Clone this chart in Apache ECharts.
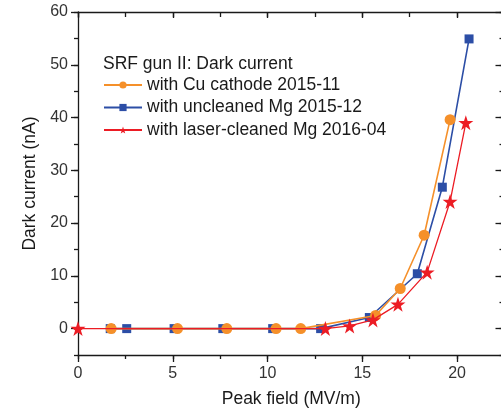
<!DOCTYPE html>
<html>
<head>
<meta charset="utf-8">
<script src="https://cdn.jsdelivr.net/npm/echarts@6/dist/echarts.min.js"></script>
<style>
html,body{margin:0;padding:0;background:#fff;overflow:hidden;width:501px;height:411px;}
#chart{width:506px;height:411px;}
</style>
</head>
<body>
<div id="chart"></div>
<script>
// ---- data ----
const seriesNames = ['with Cu cathode 2015-11', 'with uncleaned Mg 2015-12', 'with laser-cleaned Mg 2016-04'];
const cuX = [1.75, 5.25, 7.85, 10.45, 11.75, 15.7, 17.0, 18.26, 19.63];
const cuY = [0, 0, 0, 0, 0, 2.5, 7.6, 17.7, 39.6];
const mgX = [1.7, 2.57, 5.07, 7.64, 10.27, 12.8, 15.37, 17.9, 19.22, 20.63];
const mgY = [0, 0, 0, 0, 0, 0, 2.1, 10.4, 26.8, 54.9];
const lcX = [0, 13.05, 14.33, 15.56, 16.88, 18.42, 19.63, 20.46];
const lcY = [0, 0, 0.5, 1.65, 4.6, 10.7, 24.1, 39.0];
const xMajorTicks = [0, 5, 10, 15, 20];
const yMajorTicks = [0, 10, 20, 30, 40, 50, 60];
const legendTitle = 'SRF gun II: Dark current';
const xTitle = 'Peak field (MV/m)';
const yTitle = 'Dark current (nA)';

const pairs = (xs, ys) => xs.map((x, i) => [x, ys[i]]);
const FONT = 'Arial, "Liberation Sans", sans-serif';
const AXC = '#1a1a1a';
const AX = {onZero: false, lineStyle: {color: AXC, width: 1.3}};
const NOLINE = {show: false, onZero: false};

const chart = echarts.init(document.getElementById('chart'));
const xBase = {type: 'value', min: 0, max: 22.5, gridIndex: 0, splitLine: {show: false}};
const yBase = {type: 'value', min: -5, max: 60, gridIndex: 0, splitLine: {show: false}};

chart.setOption({
  animation: false,
  backgroundColor: '#fff',
  grid: {left: 78, top: 12, right: 1.5, bottom: 56, containLabel: false, outerBoundsMode: 'none'},
  title: {
    text: legendTitle, left: 98, top: 50,
    textStyle: {fontFamily: FONT, fontSize: 17.5, fontWeight: 'normal', color: '#1a1a1a'}
  },
  legend: {
    orient: 'vertical', left: 98, top: 71,
    data: seriesNames,
    itemWidth: 38, itemHeight: 9, itemGap: 4.5,
    textStyle: {fontFamily: FONT, fontSize: 17.5, color: '#1a1a1a', lineHeight: 17}
  },
  xAxis: [
    Object.assign({}, xBase, {
      position: 'bottom', interval: 5,
      name: xTitle, nameLocation: 'middle', nameGap: 35,
      nameTextStyle: {fontFamily: FONT, fontSize: 17.5, color: '#1a1a1a'},
      axisLine: AX,
      axisTick: {show: true, inside: false, length: 7, lineStyle: {color: AXC, width: 1.3}},
      axisLabel: {show: true, margin: 11, fontFamily: FONT, fontSize: 16, color: '#333',
        customValues: xMajorTicks}
    }),
    Object.assign({}, xBase, {
      position: 'bottom', interval: 2.5,
      axisLine: NOLINE,
      axisTick: {show: true, inside: false, length: 4, lineStyle: {color: AXC, width: 1.3}},
      axisLabel: {show: false}
    }),
    Object.assign({}, xBase, {
      position: 'top', interval: 5,
      axisLine: AX,
      axisTick: {show: true, inside: true, length: 6, lineStyle: {color: AXC, width: 1.3}},
      axisLabel: {show: false}
    }),
    Object.assign({}, xBase, {
      position: 'top', interval: 2.5,
      axisLine: NOLINE,
      axisTick: {show: true, inside: true, length: 5, lineStyle: {color: AXC, width: 1.3}},
      axisLabel: {show: false}
    })
  ],
  yAxis: [
    Object.assign({}, yBase, {
      position: 'left', interval: 5,
      name: yTitle, nameLocation: 'middle', nameGap: 38, nameRotate: 90,
      nameTextStyle: {fontFamily: FONT, fontSize: 17.5, color: '#1a1a1a'},
      axisLine: AX,
      axisTick: {show: true, inside: false, length: 7, customValues: yMajorTicks, lineStyle: {color: AXC, width: 1.3}},
      axisLabel: {show: true, margin: 10, fontFamily: FONT, fontSize: 16, color: '#333', customValues: yMajorTicks}
    }),
    Object.assign({}, yBase, {
      position: 'left', interval: 5,
      axisLine: NOLINE,
      axisTick: {show: true, inside: false, length: 4, lineStyle: {color: AXC, width: 1.3}},
      axisLabel: {show: false}
    }),
    Object.assign({}, yBase, {
      position: 'right', interval: 5,
      axisLine: AX,
      axisTick: {show: true, inside: true, length: 9, customValues: yMajorTicks, lineStyle: {color: AXC, width: 1.3}},
      axisLabel: {show: false}
    }),
    Object.assign({}, yBase, {
      position: 'right', interval: 5,
      axisLine: NOLINE,
      axisTick: {show: true, inside: true, length: 5, lineStyle: {color: AXC, width: 1.3}},
      axisLabel: {show: false}
    })
  ],
  series: [
    {
      name: seriesNames[1], type: 'line', xAxisIndex: 0, yAxisIndex: 0,
      data: pairs(mgX, mgY), symbol: 'rect', symbolSize: 9, z: 2,
      itemStyle: {color: '#2c4ea6'}, lineStyle: {color: '#2c4ea6', width: 1.6}
    },
    {
      name: seriesNames[0], type: 'line', xAxisIndex: 0, yAxisIndex: 0,
      data: pairs(cuX, cuY), symbol: 'circle', symbolSize: 11, z: 3,
      itemStyle: {color: '#f5902a'}, lineStyle: {color: '#f5902a', width: 1.6}
    },
    {
      name: seriesNames[2], type: 'line', xAxisIndex: 0, yAxisIndex: 0,
      data: pairs(lcX, lcY),
      symbol: 'path://M50,0 L61.8,35.1 L98.6,35.1 L68.8,56.8 L80.2,91.9 L50,70.2 L19.8,91.9 L31.2,56.8 L1.4,35.1 L38.2,35.1 Z',
      symbolSize: 15, z: 4,
      itemStyle: {color: '#ec1c24'}, lineStyle: {color: '#ec1c24', width: 1.3}
    }
  ]
});
</script>
</body>
</html>
